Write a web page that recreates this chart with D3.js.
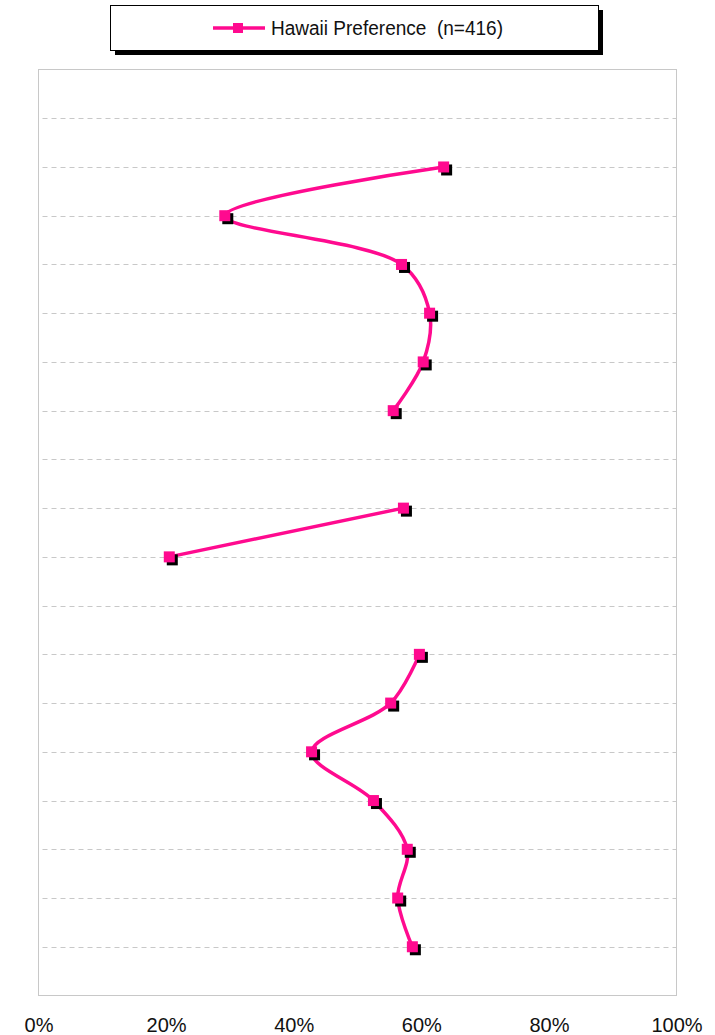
<!DOCTYPE html>
<html>
<head>
<meta charset="utf-8">
<script src="https://cdn.jsdelivr.net/npm/d3@7"></script>
<style>
  body { margin: 0; background: #fff; }
  svg { display: block; }
</style>
</head>
<body>
<div id="chart-area"></div>
<script>
// categories are unlabeled rows, top to bottom
const rows = [1, 2, 3, 4, 5, 6, 7, 8, 9, 10, 11, 12, 13, 14, 15, 16, 17, 18];
const preference = [null, 63.5, 29.2, 56.9, 61.3, 60.3, 55.6, null, 57.2, 20.5, null, 59.7, 55.2, 42.8, 52.5, 57.8, 56.3, 58.6];
const tickValues = [0, 20, 40, 60, 80, 100];
const seriesName = 'Hawaii Preference  (n=416)';

const width = 715;
const height = 1035;
const plot = {left: 38.5, right: 676.5, top: 69.5, bottom: 995.5};
const pink = '#ff0a8f';

const svg = d3.select('#chart-area')
	.append('svg')
	.attr('width', width)
	.attr('height', height);

const x = d3.scaleLinear()
	.domain([0, 100])
	.range([plot.left, plot.right]);

const y = d3.scaleLinear()
	.domain([0, rows.length + 1])
	.range([plot.top, plot.bottom]);

// plot frame
svg.append('rect')
	.attr('x', plot.left)
	.attr('y', plot.top)
	.attr('width', plot.right - plot.left)
	.attr('height', plot.bottom - plot.top)
	.attr('fill', 'none')
	.attr('stroke', '#c8c8c8')
	.attr('stroke-width', 1);

// dashed gridlines at every row
svg.append('g')
	.selectAll('line')
	.data(rows)
	.enter()
	.append('line')
	.attr('x1', plot.left)
	.attr('x2', plot.right)
	.attr('y1', d => Math.round(y(d)) + 0.5)
	.attr('y2', d => Math.round(y(d)) + 0.5)
	.attr('stroke', '#c8c8c8')
	.attr('stroke-dasharray', '5,4')
	.attr('stroke-dashoffset', -4);

// x axis tick labels
const xAxis = d3.axisBottom(x)
	.tickValues(tickValues)
	.tickSize(0)
	.tickPadding(0)
	.tickFormat(d => d + '%');

svg.append('g')
	.attr('transform', `translate(0,${plot.bottom + 22})`)
	.call(xAxis)
	.call(g => g.select('.domain').remove())
	.selectAll('text')
	.attr('font-family', 'Liberation Sans, Arial, sans-serif')
	.attr('font-size', '20px')
	.attr('fill', '#111')
	.attr('dy', '0.71em');

const pts = rows.map((r, i) => ({row: r, v: preference[i]}));

const line = d3.line()
	.defined(d => d.v !== null)
	.x(d => x(d.v))
	.y(d => y(d.row))
	.curve(d3.curveCatmullRom.alpha(0.5));

svg.append('path')
	.datum(pts)
	.attr('d', line)
	.attr('fill', 'none')
	.attr('stroke', pink)
	.attr('stroke-width', 3.5)
	.attr('stroke-linejoin', 'round');

const valid = pts.filter(d => d.v !== null);
const s = 11;

// marker shadows
svg.append('g')
	.selectAll('rect')
	.data(valid)
	.enter()
	.append('rect')
	.attr('x', d => x(d.v) - s / 2 + 3)
	.attr('y', d => y(d.row) - s / 2 + 3)
	.attr('width', s)
	.attr('height', s)
	.attr('fill', '#000');

svg.append('g')
	.selectAll('rect')
	.data(valid)
	.enter()
	.append('rect')
	.attr('x', d => x(d.v) - s / 2)
	.attr('y', d => y(d.row) - s / 2)
	.attr('width', s)
	.attr('height', s)
	.attr('fill', pink);

// legend box with shadow
const legend = svg.append('g');
legend.append('rect')
	.attr('x', 115)
	.attr('y', 10)
	.attr('width', 488)
	.attr('height', 45)
	.attr('fill', '#000');
legend.append('rect')
	.attr('x', 110.5)
	.attr('y', 5.5)
	.attr('width', 488)
	.attr('height', 45)
	.attr('fill', '#fff')
	.attr('stroke', '#000')
	.attr('stroke-width', 1);
legend.append('line')
	.attr('x1', 213)
	.attr('x2', 265)
	.attr('y1', 28)
	.attr('y2', 28)
	.attr('stroke', pink)
	.attr('stroke-width', 3.5);
legend.append('rect')
	.attr('x', 233)
	.attr('y', 23)
	.attr('width', 10)
	.attr('height', 10)
	.attr('fill', pink);
legend.append('text')
	.attr('x', 271)
	.attr('y', 35)
	.attr('font-family', 'Liberation Sans Narrow, Liberation Sans, Arial, sans-serif')
	.attr('font-size', '20px')
	.attr('fill', '#111')
	.attr('textLength', 232)
	.attr('lengthAdjust', 'spacingAndGlyphs')
	.attr('xml:space', 'preserve')
	.style('white-space', 'pre')
	.text(seriesName);
</script>
</body>
</html>
